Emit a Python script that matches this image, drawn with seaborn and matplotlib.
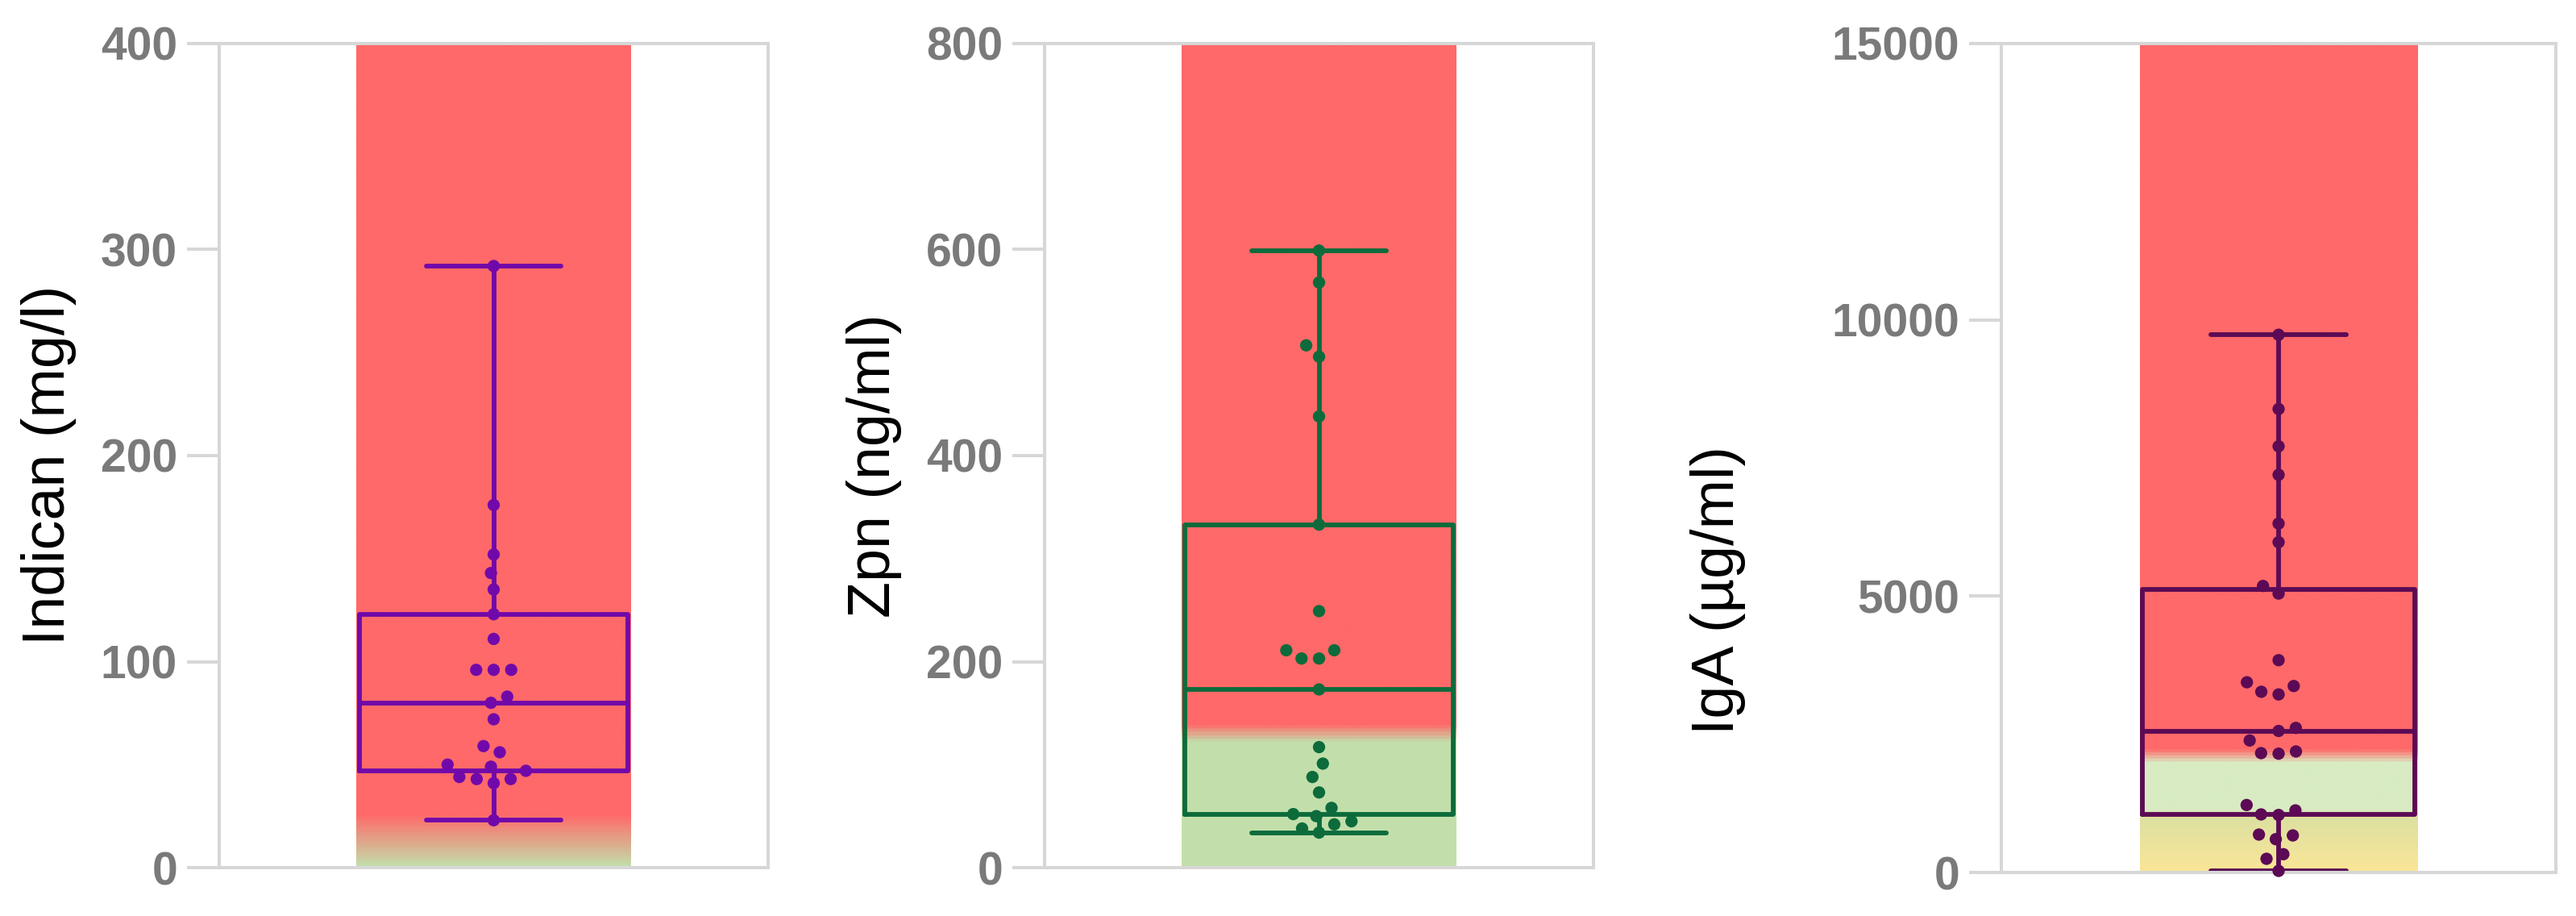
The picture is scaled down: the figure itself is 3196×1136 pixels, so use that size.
import numpy as np
import matplotlib
matplotlib.use("Agg")
import matplotlib.pyplot as plt
from matplotlib.colors import LinearSegmentedColormap
import seaborn as sns

sns.set_style("white")
plt.rcParams["font.family"] = ["Liberation Sans", "DejaVu Sans"]

# values
indican = [292, 176, 152, 143, 135, 123, 111, 96, 96, 96, 83, 80, 72,
           59, 56, 50, 49, 47, 44, 43, 43, 41, 23]
zpn = [599, 568, 507, 496, 438, 333, 249, 211, 211, 203, 203, 173,
       117, 101, 88, 73, 58, 52, 50, 45, 42, 38, 34]
iga = [9730, 8387, 7712, 7196, 6314, 5977, 5185, 5047, 3842, 3442, 3374,
       3270, 3222, 2616, 2561, 2389, 2190, 2160, 2150, 1221, 1124, 1051,
       1041, 686, 671, 603, 331, 248, 29]

labels = ["Indican (mg/l)", "Zpn (ng/ml)", "IgA (µg/ml)"]
yticks = [[0, 100, 200, 300, 400], [0, 200, 400, 600, 800],
          [0, 5000, 10000, 15000]]
colors = ["#7109AA", "#0D6B3B", "#5C0A55"]

RED = "#FF6969"
GREEN = "#C2DFAB"
# background bands: (value, colour) stops
bands = [
    [(0, "#C3DDA9"), (25, RED), (400, RED)],
    [(0, GREEN), (121, GREEN), (137, RED), (800, RED)],
    [(0, "#FAE697"), (950, "#DDE0A1"), (1080, "#D8EBC2"), (1950, "#D8EBC2"),
     (2200, RED), (15000, RED)],
]

rects = [[0.0851, 0.0528, 0.2131, 0.8997],
         [0.4055, 0.0528, 0.2131, 0.8997],
         [0.7769, 0.0475, 0.2153, 0.9050]]
label_xy = [(-0.26, 0.488), (-0.26, 0.488), (-0.46, 0.34)]


def draw_band(ax, stops, top):
    cmap = LinearSegmentedColormap.from_list(
        "band", [(v / top, c) for v, c in stops])
    grad = np.linspace(0, 1, 800).reshape(-1, 1)
    ax.imshow(grad, cmap=cmap, aspect="auto", origin="lower",
              extent=[-0.5, 0.5, 0, top], zorder=0, interpolation="bilinear")


def box_stats(vals):
    q1, med, q3 = np.percentile(vals, [25, 50, 75], method="weibull")
    return dict(med=med, q1=q1, q3=q3, whislo=min(vals), whishi=max(vals),
                fliers=[])


fig = plt.figure(figsize=(31.96, 11.36), dpi=100)
for vals, lab, ticks, col, stops, rect, lxy in zip(
        [indican, zpn, iga], labels, yticks, colors, bands, rects, label_xy):
    ax = fig.add_axes(rect)
    top = ticks[-1]
    draw_band(ax, stops, top)
    lp = dict(color=col, linewidth=4.2)
    ax.bxp([box_stats(vals)], positions=[0], widths=0.98, capwidths=0.49,
           showfliers=False, manage_ticks=False, boxprops=lp,
           whiskerprops=lp, capprops=lp, medianprops=lp)
    # edge width only widens the swarm spacing, the edge itself is not drawn
    sns.swarmplot(y=vals, ax=ax, color=col, size=11, linewidth=3.9,
                  edgecolor="none", zorder=5, clip_on=False)
    ax.set_xlim(-1, 1)
    ax.set_ylim(0, top)
    ax.set_xticks([])
    ax.set_xlabel("")
    ax.set_yticks(ticks)
    ax.set_yticklabels([str(t) for t in ticks], fontweight="bold")
    ax.tick_params(axis="y", left=True, length=28.8, width=2.9,
                   color="#D7D7D7", pad=8.6, labelsize=41,
                   labelcolor="#7A7A7A")
    for s in ax.spines.values():
        s.set_visible(True)
        s.set_color("#D7D7D7")
        s.set_linewidth(2.9)
    ax.set_ylabel(lab, fontsize=53, color="black")
    ax.yaxis.set_label_coords(*lxy)

fig.savefig("out.png", dpi=100)
